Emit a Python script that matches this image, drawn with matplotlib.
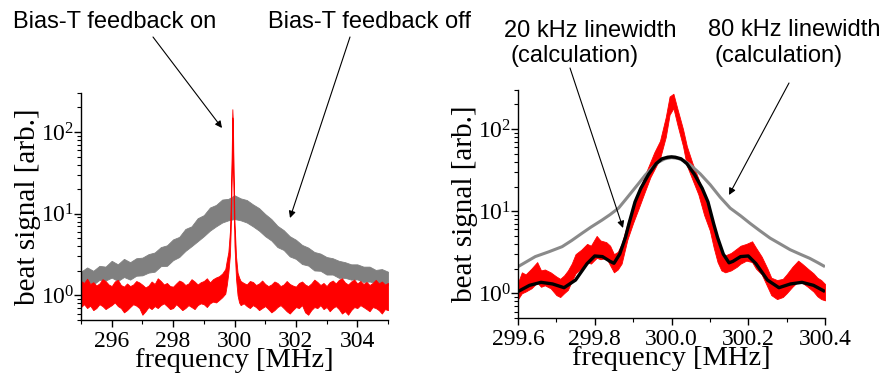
import numpy as np
import matplotlib
matplotlib.use("Agg")
import matplotlib.pyplot as plt
from matplotlib.patches import FancyArrowPatch
from matplotlib.ticker import MultipleLocator, LogLocator, NullFormatter

# ---------------- data ----------------
# Left panel: feedback off (gray noisy band), envelope values
off_x = [295.0 + 0.2 * i for i in range(51)]
off_hi = [1.95, 2.2, 2.0, 2.3, 2.25, 2.65, 2.4, 2.8, 2.55, 2.85, 2.9, 3.2, 3.35, 3.9, 4.1,
          4.85, 5.2, 6.5, 7.0, 8.8, 9.6, 11.9, 12.8, 14.9, 15.2, 16.8, 15.4, 14.7, 13.0, 11.7,
          9.9, 8.6, 7.1, 6.3, 5.3, 4.8, 4.15, 3.85, 3.4, 3.25, 2.95, 2.85, 2.65, 2.55, 2.4,
          2.4, 2.25, 2.25, 2.05, 2.1, 1.95]
off_lo = [1.38, 1.5, 1.36, 1.55, 1.52, 1.65, 1.5, 1.68, 1.56, 1.74, 1.76, 1.9, 1.95, 2.28, 2.3,
          2.7, 2.95, 3.5, 4.0, 4.6, 5.3, 6.2, 7.0, 7.8, 8.3, 8.6, 8.3, 7.8, 7.0, 6.2,
          5.3, 4.7, 3.9, 3.6, 3.0, 2.8, 2.42, 2.32, 2.02, 2.0, 1.8, 1.8, 1.64, 1.64, 1.56,
          1.57, 1.46, 1.48, 1.4, 1.42, 1.34]

# Left panel: feedback on (red), envelope values
on_x = ([round(295.0 + 0.1 * i, 2) for i in range(47)]
        + [299.7, 299.75, 299.8, 299.85, 299.88, 299.91, 299.93, 299.95, 299.97,
           300.0, 300.05, 300.1, 300.15, 300.2]
        + [round(300.3 + 0.1 * i, 2) for i in range(48)])
on_hi = [1.5, 1.42, 1.6, 1.38, 1.45, 1.32, 1.4, 1.58, 1.5, 1.36,
         1.3, 1.48, 1.55, 1.34, 1.28, 1.4, 1.3, 1.36, 1.5, 1.44,
         1.35, 1.25, 1.32, 1.48, 1.38, 1.62, 1.5, 1.36, 1.42, 1.3,
         1.28, 1.4, 1.52, 1.46, 1.34, 1.4, 1.58, 1.48, 1.36, 1.45,
         1.5, 1.62, 1.44, 1.58, 1.66, 1.72, 1.85,
         2.1, 2.7, 3.4, 6.0, 14.0, 60.0, 190.0, 120.0, 30.0, 8.0, 3.0, 1.9, 1.65, 1.5,
         1.42, 1.36, 1.5, 1.46, 1.34, 1.4, 1.52, 1.38, 1.3, 1.36,
         1.48, 1.42, 1.3, 1.36, 1.5, 1.38, 1.32, 1.28, 1.42, 1.48,
         1.36, 1.3, 1.4, 1.56, 1.46, 1.34, 1.42, 1.3, 1.45, 1.52,
         1.4, 1.55, 1.62, 1.44, 1.36, 1.48, 1.56, 1.4, 1.5, 1.38,
         1.46, 1.34, 1.42, 1.55, 1.4, 1.48, 1.36, 1.42]
on_lo = [0.72, 0.78, 0.7, 0.75, 0.66, 0.7, 0.78, 0.74, 0.68, 0.72,
         0.76, 0.82, 0.74, 0.7, 0.62, 0.66, 0.72, 0.78, 0.75, 0.7,
         0.58, 0.64, 0.72, 0.68, 0.74, 0.7, 0.76, 0.8, 0.74, 0.68,
         0.7, 0.78, 0.72, 0.66, 0.7, 0.76, 0.72, 0.68, 0.76, 0.8,
         0.78, 0.72, 0.8, 0.84, 0.82, 0.88, 0.95,
         1.05, 1.35, 1.9, 3.1, 7.0, 30.0, 150.0, 80.0, 15.0, 4.0, 1.6, 1.0, 0.82, 0.76,
         0.8, 0.74, 0.7, 0.76, 0.72, 0.66, 0.7, 0.74, 0.68, 0.62,
         0.66, 0.72, 0.76, 0.7, 0.64, 0.6, 0.66, 0.72, 0.7, 0.76,
         0.62, 0.58, 0.66, 0.72, 0.7, 0.76, 0.68, 0.72, 0.64, 0.7,
         0.74, 0.68, 0.6, 0.64, 0.58, 0.66, 0.72, 0.7, 0.76, 0.72,
         0.68, 0.64, 0.72, 0.7, 0.66, 0.6, 0.68, 0.66]

# Right panel: measured (red), envelope values
meas_x = [299.60, 299.61, 299.62, 299.635, 299.65, 299.66, 299.67, 299.685, 299.70, 299.71,
          299.72, 299.73, 299.74, 299.75, 299.765, 299.78, 299.79, 299.805, 299.815, 299.83,
          299.84, 299.85, 299.86, 299.87, 299.885, 299.90, 299.915, 299.93, 299.945, 299.955,
          299.97, 299.985, 299.995, 300.005, 300.015, 300.03, 300.04, 300.055, 300.07, 300.085,
          300.10, 300.11, 300.12, 300.13, 300.14, 300.155, 300.17, 300.18, 300.195, 300.21,
          300.22, 300.235, 300.25, 300.26, 300.275, 300.29, 300.30, 300.315, 300.33, 300.34,
          300.355, 300.37, 300.38, 300.39, 300.40]
meas_hi = [1.35, 1.8, 1.7, 2.0, 2.4, 1.9, 1.95, 1.8, 1.6, 1.5,
           1.65, 1.9, 2.3, 3.0, 3.4, 4.0, 3.8, 5.0, 4.4, 4.2,
           3.8, 3.0, 3.2, 4.0, 7.0, 11.5, 17.0, 27.0, 40.0, 52.0,
           72.0, 140.0, 250.0, 270.0, 180.0, 100.0, 62.0, 38.0, 25.0, 15.0,
           9.5, 6.2, 4.3, 3.2, 2.9, 3.1, 3.5, 3.8, 4.0, 4.3,
           3.6, 2.8, 2.0, 1.55, 1.45, 1.5, 1.7, 2.1, 2.5, 2.3,
           2.0, 1.75, 1.55, 1.45, 1.3]
meas_lo = [0.85, 1.0, 1.05, 1.15, 1.35, 1.2, 1.25, 1.15, 0.95, 0.9,
           1.0, 1.1, 1.4, 1.75, 2.0, 2.4, 2.3, 2.7, 2.6, 2.7,
           2.2, 1.8, 1.95, 2.3, 4.5, 7.2, 11.0, 17.0, 26.0, 32.0,
           44.0, 80.0, 150.0, 180.0, 115.0, 62.0, 36.0, 24.0, 16.0, 9.0,
           5.8, 3.6, 2.4, 1.9, 1.8, 1.9, 2.1, 2.3, 2.5, 2.4,
           2.0, 1.7, 1.2, 0.95, 0.85, 0.9, 1.0, 1.2, 1.4, 1.35,
           1.2, 1.05, 0.92, 0.85, 0.82]

# Right panel: 20 kHz linewidth calculation (black)
c20_x = [299.60, 299.63, 299.66, 299.69, 299.72, 299.75, 299.78, 299.80, 299.82, 299.84,
         299.85, 299.865, 299.88, 299.89, 299.905, 299.92, 299.94, 299.96, 299.975, 299.99,
         300.00, 300.01, 300.025, 300.04, 300.06, 300.08, 300.095, 300.11, 300.12, 300.135,
         300.15, 300.16, 300.18, 300.20, 300.22, 300.25, 300.28, 300.31, 300.34, 300.37,
         300.40]
c20_y = [1.05, 1.25, 1.36, 1.3, 1.17, 1.45, 2.3, 2.85, 2.8, 2.45,
         2.32, 3.0, 4.8, 7.3, 13.0, 19.0, 28.0, 38.0, 43.5, 45.5,
         46.0, 45.5, 43.5, 38.0, 28.0, 19.0, 13.0, 7.0, 4.8, 3.0,
         2.35, 2.45, 2.8, 2.85, 2.3, 1.45, 1.17, 1.3, 1.36, 1.25,
         1.05]

# Right panel: 80 kHz linewidth calculation (gray)
c80_x = [299.60, 299.645, 299.68, 299.715, 299.74, 299.767, 299.79, 299.819, 299.84, 299.862,
         299.88, 299.897, 299.915, 299.932, 299.95, 299.966, 299.983, 300.0, 300.017, 300.034,
         300.049, 300.075, 300.101, 300.127, 300.153, 300.18, 300.205, 300.23, 300.257, 300.283,
         300.309, 300.335, 300.36, 300.38, 300.40]
c80_y = [2.11, 2.8, 3.2, 3.7, 4.4, 5.4, 6.4, 7.8, 9.1, 10.9,
         13.8, 17.3, 22.0, 27.7, 34.0, 39.7, 43.5, 45.0, 44.0, 41.0,
         36.7, 28.5, 21.0, 14.8, 10.9, 8.8, 7.1, 5.8, 4.7, 4.0,
         3.4, 3.0, 2.67, 2.38, 2.11]

left_ticks = [296, 298, 300, 302, 304]
right_ticks = [299.6, 299.8, 300.0, 300.2, 300.4]
right_ticklabels = ["299.6", "299.8", "300.0", "300.2", "300.4"]

# ---------------- figure ----------------
plt.rcParams['font.family'] = ['Liberation Serif', 'DejaVu Serif']
plt.rcParams['mathtext.fontset'] = 'stix'

W, H = 887, 380
fig = plt.figure(figsize=(W / 100, H / 100), dpi=100)

ax1 = fig.add_axes([81 / W, 1 - 320 / H, (388 - 81) / W, (320 - 93) / H])
ax2 = fig.add_axes([518 / W, 1 - 318 / H, (825 - 518) / W, (318 - 90) / H])

RED = '#ff0000'
GRAY = '#808080'

ax1.fill_between(off_x, off_lo, off_hi, color=GRAY, lw=0.6, edgecolor=GRAY)
ax1.fill_between(on_x, on_lo, on_hi, color=RED, lw=0.6, edgecolor=RED)
ax1.set_xlim(295, 305)
ax1.set_xticks(left_ticks)
ax1.xaxis.set_minor_locator(MultipleLocator(1))

ax2.fill_between(meas_x, meas_lo, meas_hi, color=RED, lw=0.6, edgecolor=RED)
ax2.plot(c80_x, c80_y, color='#8a8a8a', lw=2.2, solid_capstyle='butt')
ax2.plot(c20_x, c20_y, color='black', lw=2.4, solid_capstyle='butt')
ax2.set_xlim(299.6, 300.4)
ax2.set_xticks(right_ticks)
ax2.set_xticklabels(right_ticklabels)
ax2.xaxis.set_minor_locator(MultipleLocator(0.1))

for ax in (ax1, ax2):
    ax.set_yscale('log')
    ax.set_ylim(0.5, 300)
    ax.set_yticks([1, 10, 100])
    ax.yaxis.set_minor_locator(LogLocator(base=10, subs=np.arange(2, 10)))
    ax.yaxis.set_minor_formatter(NullFormatter())
    for s in ('top', 'right'):
        ax.spines[s].set_visible(False)
    ax.spines['left'].set_linewidth(1.0)
    ax.spines['bottom'].set_linewidth(1.0)
    ax.tick_params(which='major', direction='out', length=5, width=1.0, labelsize=17)
    ax.tick_params(which='minor', direction='out', length=3, width=0.8)
    ax.tick_params(axis='x', which='major', pad=3)
    ax.tick_params(axis='y', which='major', pad=0)
    ax.set_xlabel('frequency [MHz]', fontsize=20.5, labelpad=-3)
    ax.set_ylabel('beat signal [arb.]', fontsize=21, labelpad=0)

# ---------------- annotations ----------------
sans = ['Liberation Sans', 'DejaVu Sans']
tkw = dict(fontsize=17, family=sans, ha='left', va='baseline')
fig.text(13 / W, 1 - 28 / H, 'Bias-T feedback on', **tkw)
fig.text(268 / W, 1 - 28 / H, 'Bias-T feedback off', **tkw)
fig.text(504 / W, 1 - 37 / H, '20 kHz linewidth', **tkw)
fig.text(511 / W, 1 - 62 / H, '(calculation)', **tkw)
fig.text(708 / W, 1 - 36 / H, '80 kHz linewidth', **tkw)
fig.text(715 / W, 1 - 62 / H, '(calculation)', **tkw)

akw = dict(arrowstyle='-|>', color='black', lw=0.8, mutation_scale=10, shrinkA=0, shrinkB=0)
arrows = [((153, 37), (222, 128)), ((350, 37), (290, 218)),
          ((570, 68), (623, 228)), ((789, 83), (729, 195))]
for (x0, y0), (x1, y1) in arrows:
    fig.add_artist(FancyArrowPatch((x0 / W, 1 - y0 / H), (x1 / W, 1 - y1 / H),
                                   transform=fig.transFigure, **akw))

fig.savefig('out.png', dpi=100)
